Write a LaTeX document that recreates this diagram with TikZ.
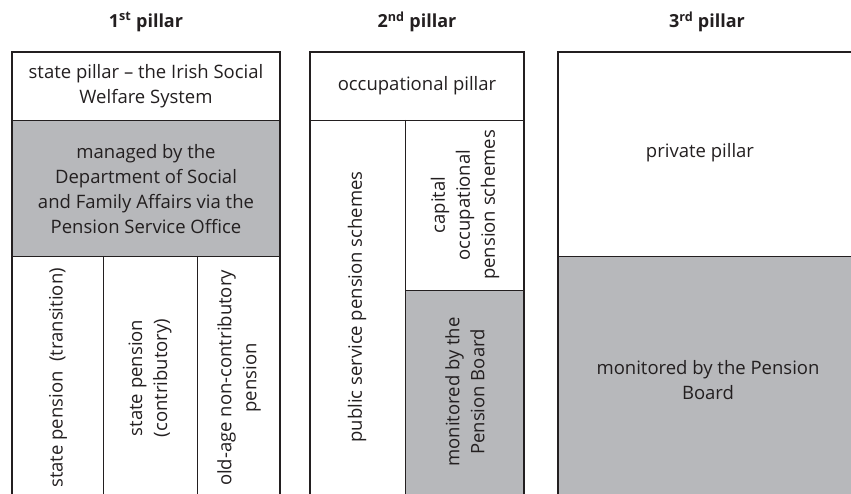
\documentclass[tikz,border=0pt]{standalone}
\usepackage{fontspec}
\setmainfont{Open Sans}
\usepackage{xcolor}
\usepackage{tikz}
\usetikzlibrary{positioning}
\definecolor{boxgray}{RGB}{183,184,187}
\definecolor{ink}{RGB}{35,31,32}
\tikzset{
  label/.style={text=ink, align=center, inner sep=0pt, font=\fontsize{18.5}{25}\selectfont},
  head/.style={text=ink, font=\fontsize{18}{20}\selectfont\bfseries},
  frame/.style={draw=ink, line width=1.8pt},
  rule/.style={draw=ink, line width=0.9pt}
}
\begin{document}
\begin{tikzpicture}[x=1pt, y=-1pt]
	\useasboundingbox (0,0) rectangle (851,494);
	\clip (0,0) rectangle (851,494);
	% grey fields
	\fill[boxgray] (12,120) rectangle (280,256);
	\fill[boxgray] (405,290) rectangle (524,500);
	\fill[boxgray] (558,256) rectangle (870,500);
	% inner rules
	\foreach \l/\r/\y in {12/280/120, 12/280/256, 310/524/120, 405/524/290, 558/870/256}
	  \draw[rule] (\l,\y) -- (\r,\y);
	\foreach \x/\t in {103/256, 197/256, 405/120}
	  \draw[rule] (\x,\t) -- (\x,500);
	% pillar frames
	\foreach \l/\r in {12/280, 310/524, 558/870}
	  \draw[frame] (\l,500) -- (\l,52) -- (\r,52) -- (\r,500);
	% headings
	\node[head] (head1) at (146,22) {1\textsuperscript{st} pillar};
	\node[head] (head2) at (417,22) {2\textsuperscript{nd} pillar};
	\node[head] (head3) at (707,22) {3\textsuperscript{rd} pillar};
	% 1st pillar
	\node[label] (state) at (146,86) {state pillar -- the Irish Social\\Welfare System};
	\node[label] (managed) at (146,189) {managed by the\\Department of Social\\and Family Affairs via the\\Pension Service Office};
	\node[label, rotate=90] (transition) at (58,378) {state pension\ \ (transition)};
	\node[label, rotate=90] (contrib) at (150,378) {state pension\\(contributory)};
	\node[label, rotate=90] (noncontrib) at (239,378) {old-age non-contributory\\pension};
	% 2nd pillar
	\node[label] (occup) at (417,86) {occupational pillar};
	\node[label, rotate=90] (public) at (357,307) {public service pension schemes};
	\node[label, rotate=90] (capital) at (465,205) {capital\\occupational\\pension schemes};
	\node[label, rotate=90] (monitor2) at (465,392) {monitored by the\\Pension Board};
	% 3rd pillar
	\node[label] (private) at (700,153) {private pillar};
	\node[label] (monitor3) at (708,380) {monitored by the Pension\\Board};
\end{tikzpicture}
\end{document}
